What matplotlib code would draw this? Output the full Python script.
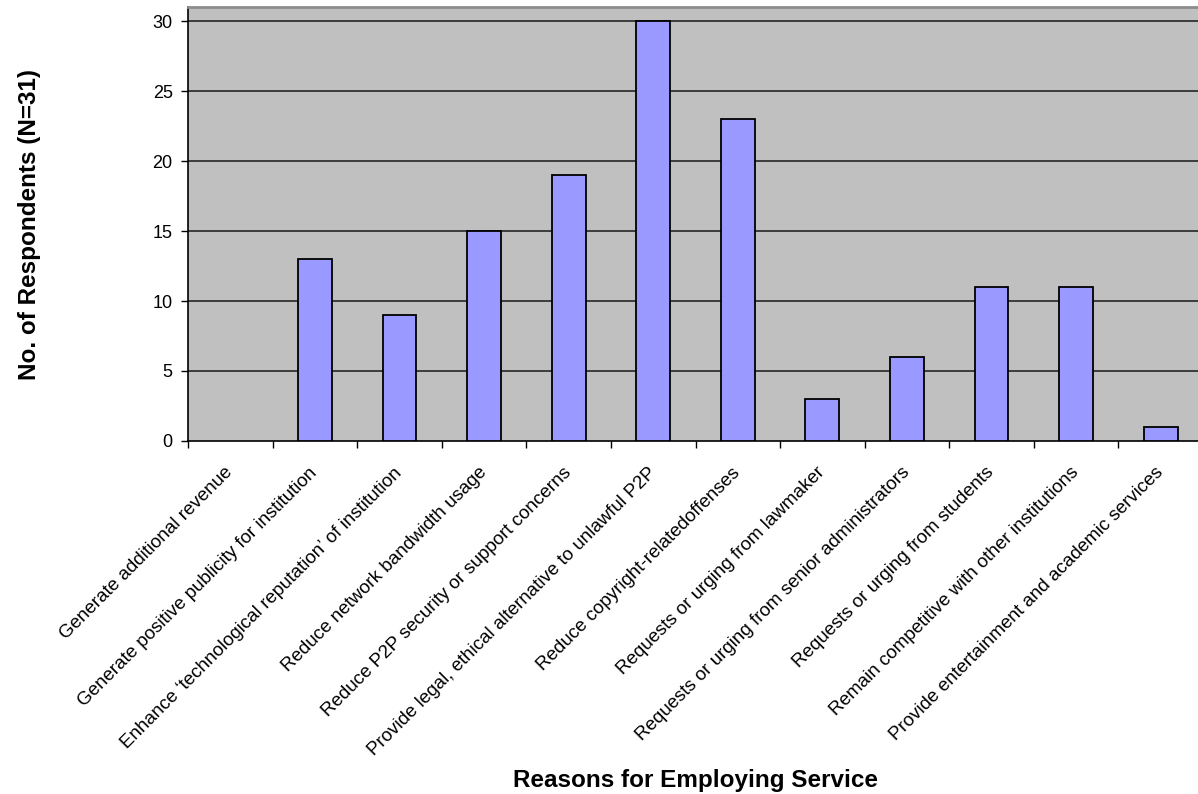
import numpy as np
import matplotlib.pyplot as plt

plt.rcParams['font.family'] = ['Liberation Sans', 'DejaVu Sans']

reasons = [
    "Generate additional revenue",
    "Generate positive publicity for institution",
    "Enhance \u2018technological reputation\u2019 of institution",
    "Reduce network bandwidth usage",
    "Reduce P2P security or support concerns",
    "Provide legal, ethical alternative to unlawful P2P",
    "Reduce copyright-relatedoffenses",
    "Requests or urging from lawmaker",
    "Requests or urging from senior administrators",
    "Requests or urging from students",
    "Remain competitive with other institutions",
    "Provide entertainment and academic services",
]
respondents = [0, 13, 9, 15, 19, 30, 23, 3, 6, 11, 11, 1]
y_ticks = [0, 5, 10, 15, 20, 25, 30]

W, H = 1198, 794
fig = plt.figure(figsize=(W / 100, H / 100), dpi=100)
# plot area runs slightly past the right edge of the image
left, right, top, bottom = 188, 1203, 7, 441
ax = fig.add_axes([left / W, 1 - bottom / H, (right - left) / W, (bottom - top) / H])
ax.set_facecolor('#C0C0C0')

x = np.arange(len(reasons))
edges = ['black' if v > 0 else 'none' for v in respondents]
ax.bar(x, respondents, width=0.4, color='#9999FF', edgecolor=edges, linewidth=1.3, zorder=3)

ax.set_xlim(-0.5, len(reasons) - 0.5)
ax.set_ylim(0, 31)
ax.set_yticks(y_ticks)
ax.set_yticklabels([str(v) for v in y_ticks], fontsize=13)
for v in y_ticks[1:]:
    ax.axhline(v, color='#262626', linewidth=1.2, zorder=1)

# category labels at bar centres, tick marks at category boundaries
ax.set_xticks(x)
ax.set_xticklabels(reasons, rotation=45, ha='right', va='center',
                   rotation_mode='anchor', fontsize=13.5)
ax.tick_params(axis='x', which='major', length=0, pad=21)
ax.set_xticks(np.arange(len(reasons) + 1) - 0.5, minor=True)
ax.tick_params(axis='x', which='minor', length=5, width=1, color='black', direction='out')
ax.tick_params(axis='y', length=5, width=1, direction='out', pad=6)

for side in ('left', 'bottom'):
    ax.spines[side].set_color('black')
    ax.spines[side].set_linewidth(1.2)
ax.spines['top'].set_color('#8c8c8c')
ax.spines['top'].set_linewidth(2)
ax.spines['right'].set_visible(False)

# axis titles centred on the plot area
mid_x = (left + right) / 2
mid_y = (top + bottom) / 2
fig.text(30 / W, 1 - mid_y / H, 'No. of Respondents (N=31)', rotation=90,
         ha='center', va='center', fontsize=17.5, fontweight='bold')
fig.text(mid_x / W, 1 - 787 / H, 'Reasons for Employing Service',
         ha='center', va='baseline', fontsize=17.5, fontweight='bold')

fig.savefig('out.png', dpi=100)
